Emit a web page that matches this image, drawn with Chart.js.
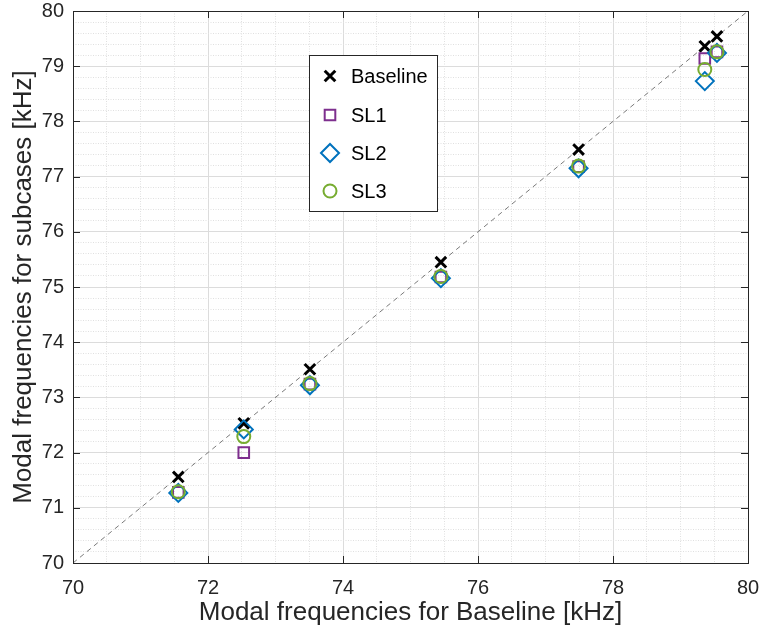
<!DOCTYPE html>
<html>
<head>
<meta charset="utf-8">
<script src="https://cdn.jsdelivr.net/npm/chart.js@4"></script>
<style>
  html, body { margin: 0; padding: 0; background: #fff; }
  #wrap { width: 761px; height: 638px; }
</style>
</head>
<body>
<div id="wrap"><canvas id="freqChart" width="761" height="638"></canvas></div>
<script>
(() => {
  "use strict";

  // Modal frequencies [kHz]: baseline on x, each subcase on y
  const baseFreq = [71.56, 72.53, 73.51, 75.45, 77.49, 79.36, 79.54];
  const sl1Freq = [71.28, 72.0, 73.24, 75.18, 77.18, 79.14, 79.26];
  const sl2Freq = [71.27, 72.42, 73.22, 75.16, 77.15, 78.73, 79.24];
  const sl3Freq = [71.29, 72.29, 73.25, 75.19, 77.19, 78.94, 79.26];

  const axisRange = [70, 80];
  const xMajorStep = 2;
  const yMajorStep = 1;

  const textColor = "#262626";
  const fontFamily = "'Liberation Sans', Arial, Helvetica, sans-serif";

  const pairs = (ys) => baseFreq.map((x, i) => ({ x, y: ys[i] }));

  const isMajor = (v, step) => Math.abs(v / step - Math.round(v / step)) < 1e-6;

  const gridColor = (step) => (ctx) =>
    isMajor(ctx.tick.value, step) ? "#dcdcdc" : "#e0e0e0";
  const gridDash = (step) => (ctx) =>
    ctx.tick && isMajor(ctx.tick.value, step) ? [] : [1, 1.5];

  // Full box around the plot plus inward major ticks on all four sides
  const boxPlugin = {
    id: "box",
    afterDatasetsDraw(chart) {
      const { ctx, chartArea: a, scales } = chart;
      ctx.save();
      ctx.strokeStyle = textColor;
      ctx.lineWidth = 1;
      ctx.beginPath();
      scales.x.ticks.forEach((t) => {
        if (!isMajor(t.value, xMajorStep)) return;
        const px = Math.round(scales.x.getPixelForValue(t.value)) + 0.5;
        ctx.moveTo(px, a.bottom); ctx.lineTo(px, a.bottom - 7);
        ctx.moveTo(px, a.top); ctx.lineTo(px, a.top + 7);
      });
      scales.y.ticks.forEach((t) => {
        if (!isMajor(t.value, yMajorStep)) return;
        const py = Math.round(scales.y.getPixelForValue(t.value)) + 0.5;
        ctx.moveTo(a.left, py); ctx.lineTo(a.left + 7, py);
        ctx.moveTo(a.right, py); ctx.lineTo(a.right - 7, py);
      });
      ctx.stroke();
      ctx.strokeRect(Math.round(a.left) + 0.5, Math.round(a.top) + 0.5,
        Math.round(a.right - a.left), Math.round(a.bottom - a.top));
      ctx.restore();
    },
  };

  // Legend box sitting inside the axes
  const insetLegend = {
    id: "insetLegend",
    afterDraw(chart) {
      const { ctx } = chart;
      const box = { x: 309.5, y: 55.5, w: 128, h: 156 };
      const rowY = [76, 115, 153, 191];
      ctx.save();
      ctx.fillStyle = "#fff";
      ctx.fillRect(box.x, box.y, box.w, box.h);
      ctx.strokeStyle = textColor;
      ctx.lineWidth = 1;
      ctx.strokeRect(box.x, box.y, box.w, box.h);
      const items = chart.data.datasets.filter((d) => d.inLegend);
      items.forEach((d, i) => {
        ctx.strokeStyle = d.borderColor;
        ctx.fillStyle = "rgba(0,0,0,0)";
        ctx.lineWidth = d.borderWidth;
        Chart.helpers.drawPoint(ctx, {
          pointStyle: d.pointStyle,
          radius: d.legendRadius,
          borderWidth: d.borderWidth,
        }, 330, rowY[i]);
        ctx.fillStyle = "#000";
        ctx.font = "20px " + fontFamily;
        ctx.textBaseline = "middle";
        ctx.fillText(d.label, 351, rowY[i] + 1);
      });
      ctx.restore();
    },
  };

  const markerSet = (label, ys, color, style, radius, width, order) => ({
    type: "scatter",
    label,
    data: pairs(ys),
    pointStyle: style,
    pointRadius: radius,
    pointHoverRadius: radius,
    pointBorderColor: color,
    pointBackgroundColor: "rgba(0,0,0,0)",
    pointBorderWidth: width,
    borderColor: color,
    borderWidth: width,
    legendRadius: radius,
    inLegend: true,
    order,
  });

  new Chart(document.getElementById("freqChart"), {
    data: {
      datasets: [
        markerSet("Baseline", baseFreq, "#000000", "crossRot", 7.5, 3, 3),
        markerSet("SL1", sl1Freq, "#7E2F8E", "rect", 7.5, 2, 2),
        markerSet("SL2", sl2Freq, "#0072BD", "rectRot", 9, 2, 1),
        markerSet("SL3", sl3Freq, "#77AC30", "circle", 6.5, 2, 0),
        {
          type: "line",
          label: "y = x",
          data: axisRange.map((v) => ({ x: v, y: v })),
          borderColor: "#7a7a7a",
          borderWidth: 1,
          borderDash: [5, 4],
          pointRadius: 0,
          inLegend: false,
          order: 5,
        },
      ],
    },
    options: {
      responsive: false,
      animation: false,
      devicePixelRatio: 1,
      layout: { padding: { top: 9, right: 13, left: 0, bottom: 0 } },
      plugins: { legend: { display: false }, tooltip: { enabled: false } },
      scales: {
        x: {
          type: "linear",
          min: axisRange[0],
          max: axisRange[1],
          afterFit: (s) => {
            s.height = 75;
            s.paddingLeft = 0;
            s.paddingRight = 0;
          },
          ticks: {
            stepSize: 0.5,
            autoSkip: false,
            maxRotation: 0,
            padding: 13,
            color: textColor,
            font: { family: fontFamily, size: 20 },
            callback: (v) => (isMajor(v, xMajorStep) ? v : ""),
          },
          grid: { color: gridColor(xMajorStep), lineWidth: 1, drawTicks: false },
          border: { display: false, dash: gridDash(xMajorStep) },
          title: {
            display: true,
            text: "Modal frequencies for Baseline [kHz]",
            color: textColor,
            font: { family: fontFamily, size: 26 },
            padding: { top: 0, bottom: 10 },
          },
        },
        y: {
          type: "linear",
          min: axisRange[0],
          max: axisRange[1],
          afterFit: (s) => {
            s.width = 73;
            s.paddingTop = 0;
            s.paddingBottom = 0;
          },
          ticks: {
            stepSize: 0.2,
            autoSkip: false,
            padding: 9,
            color: textColor,
            font: { family: fontFamily, size: 20 },
            callback: (v) => (isMajor(v, yMajorStep) ? Math.round(v) : ""),
          },
          grid: { color: gridColor(yMajorStep), lineWidth: 1, drawTicks: false },
          border: { display: false, dash: gridDash(yMajorStep) },
          title: {
            display: true,
            text: "Modal frequencies for subcases [kHz]",
            color: textColor,
            font: { family: fontFamily, size: 26 },
            padding: { top: 8, bottom: 0 },
          },
        },
      },
    },
    plugins: [boxPlugin, insetLegend],
  });
})();
</script>
</body>
</html>
